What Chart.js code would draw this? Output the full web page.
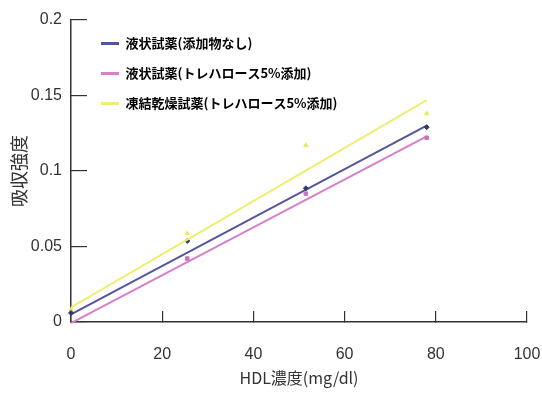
<!DOCTYPE html>
<html><head><meta charset="utf-8">
<script src="https://cdn.jsdelivr.net/npm/chart.js@4/dist/chart.umd.min.js"></script>
<style>html,body{margin:0;padding:0;background:#fff;}canvas{display:block;}</style>
</head><body>
<canvas id="c" width="542" height="395"></canvas>
<script>
// Data
const seriesNames = ['液状試薬(添加物なし)', '液状試薬(トレハロース5%添加)', '凍結乾燥試薬(トレハロース5%添加)'];
const hdlX = [0, 25.5, 51.5, 78];
const absNone = [0.006, 0.0537, 0.0885, 0.129];
const absTre = [-0.005, 0.042, 0.085, 0.122];
const absFreeze = [0.008, 0.0587, 0.117, 0.138];
const fitX = [0, 78];
const fitNone = [0.005, 0.130];
const fitTre = [-0.0007, 0.123];
const fitFreeze = [0.0097, 0.147];
const xTitle = 'HDL濃度(mg/dl)';
const yTitle = '吸収強度';

const colors = ['#55559c', '#d77fc8', '#eeee72'];
const markerColors = ['#333a6a', '#d070c0', '#e8e860'];
const markerStyles = ['rectRot', 'rect', 'triangle'];

const pts = (xs, ys) => xs.map((x, i) => ({x, y: ys[i]}));
const fits = [fitNone, fitTre, fitFreeze];
const raws = [absNone, absTre, absFreeze];

const datasets = [];
fits.forEach((f, i) => datasets.push({
  type: 'line', label: seriesNames[i], data: pts(fitX, f),
  borderColor: colors[i], backgroundColor: colors[i], borderWidth: 2,
  pointRadius: 0, clip: false, order: 2 - i
}));
raws.forEach((r, i) => datasets.push({
  type: 'scatter', label: '_pts' + i, data: pts(hdlX, r),
  borderColor: markerColors[i], backgroundColor: markerColors[i],
  pointStyle: markerStyles[i], pointRadius: 2.5, borderWidth: 1, clip: false
}));

const legendPlace = {
  id: 'legendPlace',
  afterLayout(chart) {
    const l = chart.legend;
    if (!l) return;
    const w = l.width, h = l.height;
    l.left = 84; l.right = 84 + w;
    l.top = 20; l.bottom = 20 + h;
  }
};

new Chart(document.getElementById('c'), {
  data: { datasets },
  plugins: [legendPlace],
  options: {
    responsive: false, animation: false, devicePixelRatio: 1,
    layout: { padding: { left: 0, top: 20, right: 15, bottom: 0 } },
    plugins: {
      tooltip: { enabled: false },
      legend: {
        position: 'chartArea', align: 'start',
        labels: {
          filter: it => !it.text.startsWith('_pts'),
          usePointStyle: true, pointStyle: 'line', pointStyleWidth: 18,
          padding: 17, color: '#333',
          font: { family: '"Noto Sans CJK JP"', size: 13, weight: 'bold' },
          generateLabels(chart) {
            return chart.data.datasets.map((d, i) => ({
              text: d.label, fillStyle: d.borderColor, strokeStyle: d.borderColor,
              lineWidth: 3, pointStyle: 'line', datasetIndex: i, hidden: false
            }));
          }
        }
      }
    },
    scales: {
      x: {
        type: 'linear', min: 0, max: 100,
        afterFit(s) { s.height = 73; s.paddingLeft = 0; s.paddingRight = 0; },
        ticks: { stepSize: 20, padding: 34, color: '#333', font: { family: '"Liberation Sans"', size: 16 } },
        grid: { drawOnChartArea: false, tickLength: -11, color: '#333', lineWidth: 1.2 },
        border: { color: '#333', width: 1.5 },
        title: { display: true, text: xTitle, color: '#333', padding: { top: 0, bottom: 7 },
          font: { family: '"Noto Sans CJK JP"', size: 16 } }
      },
      y: {
        type: 'linear', min: 0, max: 0.2,
        afterFit(s) { s.width = 71; s.paddingTop = 0; s.paddingBottom = 0; },
        ticks: { stepSize: 0.05, padding: 25, color: '#333', font: { family: '"Liberation Sans"', size: 16 },
          callback: v => String(Number(v.toFixed(2))) },
        grid: { drawOnChartArea: false, tickLength: -16, color: '#333', lineWidth: 1.2 },
        border: { color: '#333', width: 1.5 },
        title: { display: true, text: yTitle, color: '#333', padding: { top: 8, bottom: 0 },
          font: { family: '"Noto Sans CJK JP"', size: 18 } }
      }
    }
  }
});
</script>
</body></html>
